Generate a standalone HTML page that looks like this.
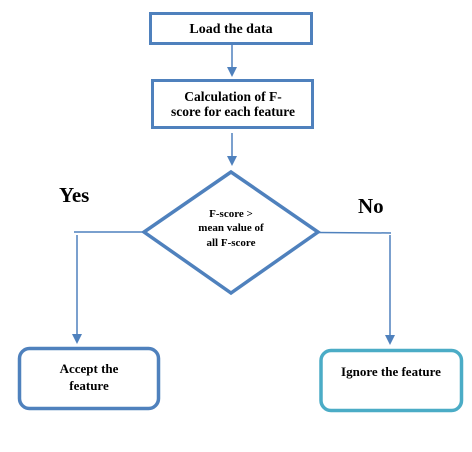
<!DOCTYPE html>
<html><head><meta charset="utf-8"><style>html,body{margin:0;padding:0;background:#fff;}svg{display:block}</style></head>
<body>
<svg width="472" height="452" viewBox="0 0 472 452" xmlns="http://www.w3.org/2000/svg" font-family="Liberation Serif, serif" font-weight="bold" fill="#000">
<rect x="0" y="0" width="472" height="452" fill="#fff"/>
<g fill="none" stroke="#4f81bd">
<rect x="150.5" y="13.5" width="161" height="30" stroke-width="3"/>
<rect x="152.5" y="80.5" width="160" height="47" stroke-width="3"/>
<polygon points="231,172 144,232 231,293 318,232" stroke-width="3.5"/>
<rect x="19.5" y="348.5" width="139" height="60" rx="10" stroke-width="3.5"/>
<rect x="321" y="350.5" width="140.5" height="60" rx="10" stroke="#4bacc6" stroke-width="3.5"/>
<g stroke-width="1.5">
<line x1="232" y1="44" x2="232" y2="68"/>
<line x1="232" y1="133" x2="232" y2="156"/>
<line x1="74" y1="232" x2="144" y2="232"/>
<line x1="77" y1="235" x2="77" y2="335"/>
<line x1="318" y1="232.5" x2="391" y2="233"/>
<line x1="390" y1="235" x2="390" y2="336"/>
</g>
</g>
<g fill="#4f81bd">
<polygon points="227,67 237,67 232,77"/>
<polygon points="227,156 237,156 232,166"/>
<polygon points="72,334 82,334 77,344"/>
<polygon points="385,335 395,335 390,345"/>
</g>
<g text-anchor="middle">
<text x="231" y="33" font-size="14">Load the data</text>
<text x="233" y="101" font-size="13.5">Calculation of F-</text>
<text x="233" y="116" font-size="13.5">score for each feature</text>
<text x="231" y="217" font-size="11">F-score &gt;</text>
<text x="231" y="231" font-size="11">mean value of</text>
<text x="231" y="246" font-size="11">all F-score</text>
<text x="89" y="373" font-size="13">Accept the</text>
<text x="89" y="390" font-size="13">feature</text>
<text x="391" y="376" font-size="13">Ignore the feature</text>
</g>
<text x="59" y="202" font-size="21">Yes</text>
<text x="358" y="213" font-size="21">No</text>
</svg>
</body></html>
